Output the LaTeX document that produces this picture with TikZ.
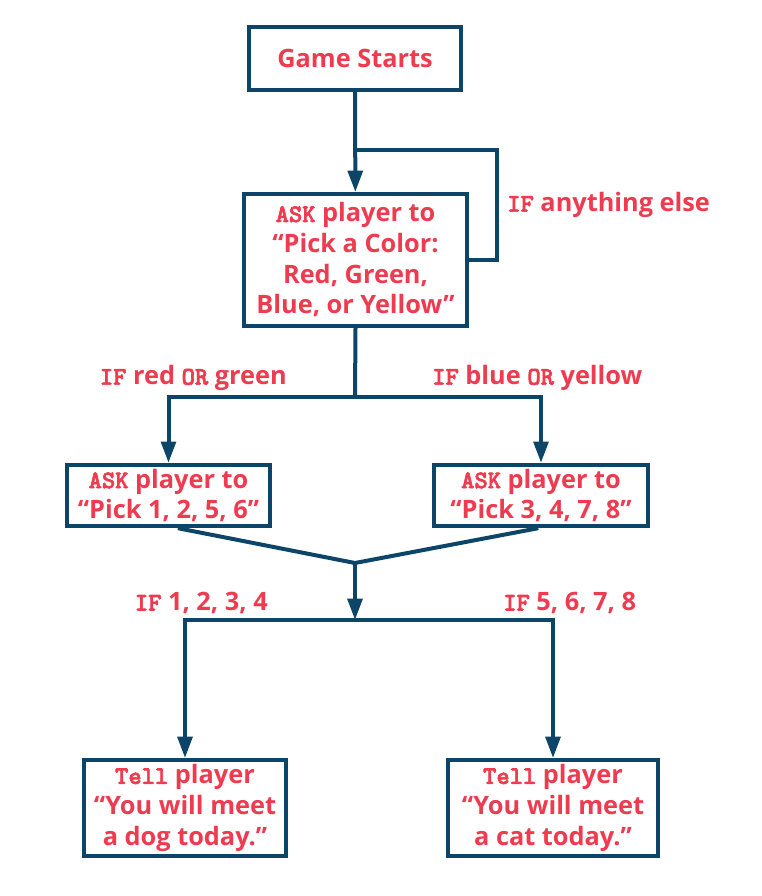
\documentclass[tikz,border=0pt]{standalone}
\usepackage{fontspec}
\setmainfont{Open Sans}
\newfontfamily\kwfont{lmmonolt10-bold.otf}[FakeBold=2.5]
\usetikzlibrary{arrows.meta,positioning}
\definecolor{flowred}{RGB}{239,59,80}
\definecolor{flowblue}{RGB}{13,69,105}
\newcommand{\kw}[1]{{\kwfont #1}}

\begin{document}
\begin{tikzpicture}[x=0.75pt,y=-0.75pt,>={Triangle[length=16pt,width=11pt]},
  box/.style={draw=flowblue,line width=3pt,align=center,text=flowred,
    font=\fontsize{19}{23}\selectfont\bfseries,inner sep=0pt},
  lbl/.style={text=flowred,font=\fontsize{19}{23}\selectfont\bfseries,inner sep=0pt},
  line/.style={draw=flowblue,line width=3pt}]
\useasboundingbox (0,0) rectangle (762,896);

% boxes
\node[box,minimum width=159pt,minimum height=47pt] (start) at (355,58.5) {Game Starts};
\node[box,minimum width=167pt,minimum height=99pt] (ask) at (355.5,260)
  {\kw{ASK} player to\\“Pick a Color:\\Red, Green,\\Blue, or Yellow”};
\node[box,minimum width=152pt,minimum height=46pt] (red) at (168.5,495.5)
  {\kw{ASK} player to\\“Pick 1, 2, 5, 6”};
\node[box,minimum width=160pt,minimum height=46pt] (blue) at (541,495.5)
  {\kw{ASK} player to\\“Pick 3, 4, 7, 8”};
\node[box,minimum width=151.5pt,minimum height=72pt] (dog) at (185,808)
  {\kw{Tell} player\\“You will meet\\a dog today.”};
\node[box,minimum width=157.5pt,minimum height=72pt] (cat) at (553,808)
  {\kw{Tell} player\\“You will meet\\a cat today.”};

% connectors
\coordinate (loop) at (497,150);
\coordinate (fork) at (355,397);
\coordinate (merge) at (355,563);
\coordinate (fork2) at (355,620);

\draw[line,->] (start) -- (ask);
\draw[line] (ask.east) -| (loop) -- (start.south |- loop);
\draw[line] (ask.south) -- (fork);
\draw[line,->] (fork) -| (red.north);
\draw[line,->] (fork) -| (blue.north);
\draw[line] ([xshift=7pt]red.south) -- (merge) -- ([xshift=-2pt]blue.south);
\draw[line,->] (merge) -- (fork2);
\draw[line,->] (fork2) -| (dog.north);
\draw[line,->] (fork2) -| (cat.north);

% labels
\node[lbl,anchor=west] (elselbl) at (507,205) {\kw{IF} anything else};
\node[lbl,anchor=east] (rglbl) at (287,378) {\kw{IF} red \kw{OR} green};
\node[lbl,anchor=west] (bylbl) at (432,378) {\kw{IF} blue \kw{OR} yellow};
\node[lbl,anchor=east] (lowlbl) at (268,603) {\kw{IF} 1, 2, 3, 4};
\node[lbl,anchor=west] (highlbl) at (503,603) {\kw{IF} 5, 6, 7, 8};

\end{tikzpicture}
\end{document}
